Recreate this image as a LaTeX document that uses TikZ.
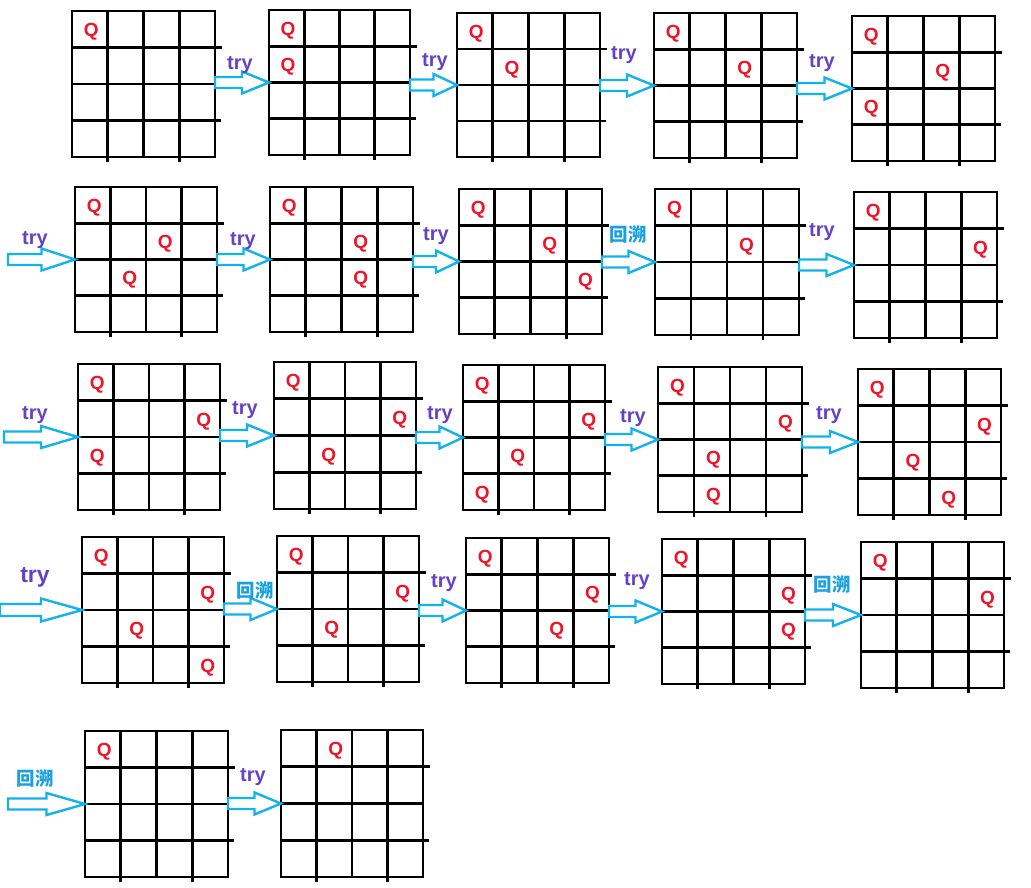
\documentclass[tikz,border=0pt]{standalone}
\usepackage{fontspec}
\setmainfont{Liberation Sans}
\newfontfamily\cjkfont{Noto Sans CJK SC}
\usetikzlibrary{calc}
\definecolor{arrowcyan}{RGB}{20,178,235}
\definecolor{trypurple}{RGB}{100,66,200}
\definecolor{backblue}{RGB}{25,160,225}
\definecolor{queenred}{RGB}{240,20,40}
\tikzset{
  boardbox/.style={draw=black, line width=2.6pt, inner sep=0pt, outer sep=0pt},
  gridline/.style={draw=black, line width=2.6pt},
  queen/.style={text=queenred, font=\fontsize{19}{19}\selectfont\bfseries, inner sep=0pt},
  trylabel/.style={text=trypurple, font=\fontsize{20}{20}\selectfont\bfseries, inner sep=0pt},
  biglabel/.style={text=trypurple, font=\fontsize{23}{23}\selectfont\bfseries, inner sep=0pt},
  backlabel/.style={text=backblue, font=\fontsize{18.5}{18.5}\selectfont\cjkfont\bfseries, inner sep=0pt},
  blockarrow/.style={draw=arrowcyan, line width=2.4pt, line join=miter}
}
\newcommand\qboard[6]{%
  \pgfmathsetmacro\bw{#4-#2}%
  \pgfmathsetmacro\bh{#5-#3}%
  \node[boardbox, minimum width=\bw pt, minimum height=\bh pt] (#1) at ({(#2+#4)/2},{(#3+#5)/2}) {};
  \draw[gridline] ($(#1.north west)!0.25!(#1.south west)$) -- ++(\bw+7,0);
  \draw[gridline] ($(#1.north west)!0.5!(#1.south west)$) -- ++(\bw,0);
  \draw[gridline] ($(#1.north west)!0.75!(#1.south west)$) -- ++(\bw+6,0);
  \draw[gridline] ($(#1.north west)!0.25!(#1.north east)$) -- ++(0,\bh+5);
  \draw[gridline] ($(#1.north west)!0.5!(#1.north east)$) -- ++(0,\bh);
  \draw[gridline] ($(#1.north west)!0.75!(#1.north east)$) -- ++(0,\bh+5);
  \foreach \r/\c [count=\k] in {#6}{
    \node[queen] (#1q\k) at ($(#1.north west)+({(\c+0.5)*\bw/4+1.5},{(\r+0.5)*\bh/4+2.5})$) {Q};
  }%
}
% block arrow from #1 to #2, shaft half height #3, head half height #4
\newcommand\barrow[4]{%
  \draw[blockarrow] let \p1=(#1), \p2=(#2) in
    (\x1,\y2+#3pt) -- ({\x1+0.5*(\x2-\x1)},\y2+#3pt) -- ({\x1+0.5*(\x2-\x1)},\y2+#4pt)
    -- (\x2,\y2) -- ({\x1+0.5*(\x2-\x1)},\y2-#4pt) -- ({\x1+0.5*(\x2-\x1)},\y2-#3pt)
    -- (\x1,\y2-#3pt) -- cycle;
}
\begin{document}
\begin{tikzpicture}[x=1pt,y=-1pt]
\useasboundingbox[fill=white] (0,0) rectangle (1031,887);
% row 1
\qboard{b1}{72}{11}{215}{157}{0/0}
\qboard{b2}{269}{10}{410}{155}{0/0,1/0}
\qboard{b3}{457}{13}{600}{157}{0/0,1/1}
\qboard{b4}{654}{13}{797}{158}{0/0,1/2}
\qboard{b5}{852}{16}{995}{161}{0/0,1/2,2/0}
% row 2
\qboard{b6}{75}{187}{217}{332}{0/0,1/2,2/1}
\qboard{b7}{270}{187}{413}{332}{0/0,1/2,2/2}
\qboard{b8}{459}{189}{602}{334}{0/0,1/2,2/3}
\qboard{b9}{655}{189}{799}{335}{0/0,1/2}
\qboard{b10}{854}{192}{997}{338}{0/0,1/3}
% row 3
\qboard{b11}{78}{364}{220}{510}{0/0,1/3,2/0}
\qboard{b12}{274}{362}{416}{509}{0/0,1/3,2/1}
\qboard{b13}{463}{365}{605}{510}{0/0,1/3,2/1,3/0}
\qboard{b14}{658}{367}{802}{512}{0/0,1/3,2/1,3/1}
\qboard{b15}{858}{369}{1001}{515}{0/0,1/3,2/1,3/2}
% row 4
\qboard{b16}{82}{537}{224}{683}{0/0,1/3,2/1,3/3}
\qboard{b17}{277}{536}{419}{682}{0/0,1/3,2/1}
\qboard{b18}{466}{538}{609}{683}{0/0,1/3,2/2}
\qboard{b19}{662}{539}{805}{684}{0/0,1/3,2/3}
\qboard{b20}{861}{542}{1004}{688}{0/0,1/3}
% row 5
\qboard{b21}{85}{731}{228}{877}{0/0}
\qboard{b22}{281}{730}{423}{877}{0/1}
% free tails of the entry arrows
\coordinate (s2) at (8,262);
\coordinate (s3) at (4,440);
\coordinate (s4) at (0,608);
\coordinate (s5) at (8,804);
% arrows
\barrow{b1.east}{b2.west}{5.5}{11}
\barrow{b2.east}{b3.west}{5.5}{11}
\barrow{b3.east}{b4.west}{5.5}{11}
\barrow{b4.east}{b5.west}{5.5}{11}
\barrow{s2}{b6.west}{5.5}{11}
\barrow{b6.east}{b7.west}{5.5}{11}
\barrow{b7.east}{b8.west}{5.5}{11}
\barrow{b8.east}{b9.west}{5.5}{11}
\barrow{b9.east}{b10.west}{5.5}{11}
\barrow{s3}{b11.west}{5.5}{11}
\barrow{b11.east}{b12.west}{5.5}{11}
\barrow{b12.east}{b13.west}{5.5}{11}
\barrow{b13.east}{b14.west}{5.5}{11}
\barrow{b14.east}{b15.west}{5.5}{11}
\barrow{s4}{b16.west}{6}{11.5}
\barrow{b16.east}{b17.west}{5.5}{11}
\barrow{b17.east}{b18.west}{5.5}{11}
\barrow{b18.east}{b19.west}{5.5}{11}
\barrow{b19.east}{b20.west}{5.5}{11}
\barrow{s5}{b21.west}{5.5}{11}
\barrow{b21.east}{b22.west}{5.5}{11}
% labels
\node[trylabel] (l1) at (240,65) {try};
\node[trylabel] (l2) at (435,62) {try};
\node[trylabel] (l3) at (624,55) {try};
\node[trylabel] (l4) at (822,63) {try};
\node[trylabel] (l5) at (35,240) {try};
\node[trylabel] (l6) at (243,241) {try};
\node[trylabel] (l7) at (436,236) {try};
\node[backlabel] (l8) at (628,234) {回溯};
\node[trylabel] (l9) at (822,232) {try};
\node[trylabel] (l10) at (35,415) {try};
\node[trylabel] (l11) at (245,410) {try};
\node[trylabel] (l12) at (440,415) {try};
\node[trylabel] (l13) at (633,418) {try};
\node[trylabel] (l14) at (829,415) {try};
\node[biglabel] (l15) at (35,577) {try};
\node[backlabel] (l16) at (255,590) {回溯};
\node[trylabel] (l17) at (444,583) {try};
\node[trylabel] (l18) at (637,581) {try};
\node[backlabel] (l19) at (832,584) {回溯};
\node[backlabel] (l20) at (35,778) {回溯};
\node[trylabel] (l21) at (253,777) {try};
\end{tikzpicture}
\end{document}
